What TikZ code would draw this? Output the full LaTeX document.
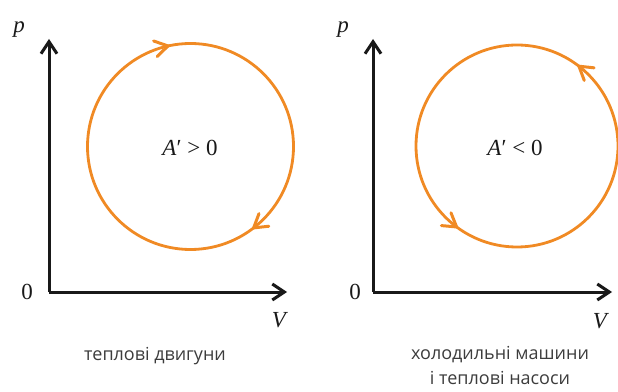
\documentclass[tikz,border=0pt]{standalone}
\usepackage{fontspec}
\newfontfamily\capfont{Open Sans}
\newfontfamily\labfont{Liberation Serif}
\usetikzlibrary{arrows.meta,decorations.markings}
\definecolor{cyc}{RGB}{240,138,36}
\definecolor{axc}{RGB}{25,25,25}
\definecolor{capc}{RGB}{60,60,60}
\begin{document}
\begin{tikzpicture}[x=1pt,y=1pt,
  axis/.style={draw=axc,line width=3pt,-{Straight Barb[length=12pt,width=16pt,line width=3pt]}},
  cycle/.style={draw=cyc,line width=2.8pt},
  chev/.style={draw=cyc,line width=3pt,line cap=round,line join=miter},
  mlab/.style={font=\labfont\fontsize{23}{26}\selectfont,text=axc,inner sep=0pt},
  caplab/.style={font=\capfont\fontsize{18}{22}\selectfont,text=capc,inner sep=0pt,align=center}]
\useasboundingbox (0,0) rectangle (618,391);
% left diagram
\coordinate (O1) at (49,99);
\coordinate (Y1) at (49,352);
\coordinate (X1) at (287,99);
\draw[axis] (O1) -- (Y1);
\draw[axis] (O1) -- (X1);
\node[mlab] (p1) at (19,361) {\itshape p};
\node[mlab] (z1) at (27,99) {0};
\node[mlab] (v1) at (279,71) {\itshape V};
\coordinate (C1) at (190.5,244.5);
\draw[cycle,postaction={decorate},decoration={markings,
  mark=at position 0.215 with {\draw[chev] (-13pt,8pt) -- (0,0) -- (-13pt,-8pt);},
  mark=at position 0.645 with {\draw[chev] (-13pt,8pt) -- (0,0) -- (-13pt,-8pt);}}]
  (C1) ++(180:103) arc[start angle=180,end angle=-180,radius=103];
\node[mlab] (a1) at (190,243) {\itshape A\upshape′ > 0};
\node[caplab] (c1) at (155,35) {теплові двигуни};
% right diagram
\coordinate (O2) at (373,99);
\coordinate (Y2) at (373,352);
\coordinate (X2) at (612,99);
\draw[axis] (O2) -- (Y2);
\draw[axis] (O2) -- (X2);
\node[mlab] (p2) at (343,361) {\itshape p};
\node[mlab] (z2) at (355,99) {0};
\node[mlab] (v2) at (600,70) {\itshape V};
\coordinate (C2) at (517,245);
\draw[cycle,postaction={decorate},decoration={markings,
  mark=at position 0.145 with {\draw[chev] (-13pt,8pt) -- (0,0) -- (-13pt,-8pt);},
  mark=at position 0.648 with {\draw[chev] (-13pt,8pt) -- (0,0) -- (-13pt,-8pt);}}]
  (C2) ++(0:101) arc[start angle=0,end angle=360,radius=101];
\node[mlab] (a2) at (515,243) {\itshape A\upshape′ < 0};
\node[caplab] (c2a) at (500,36) {холодильні машини};
\node[caplab] (c2b) at (500,13) {і теплові насоси};
\end{tikzpicture}
\end{document}
